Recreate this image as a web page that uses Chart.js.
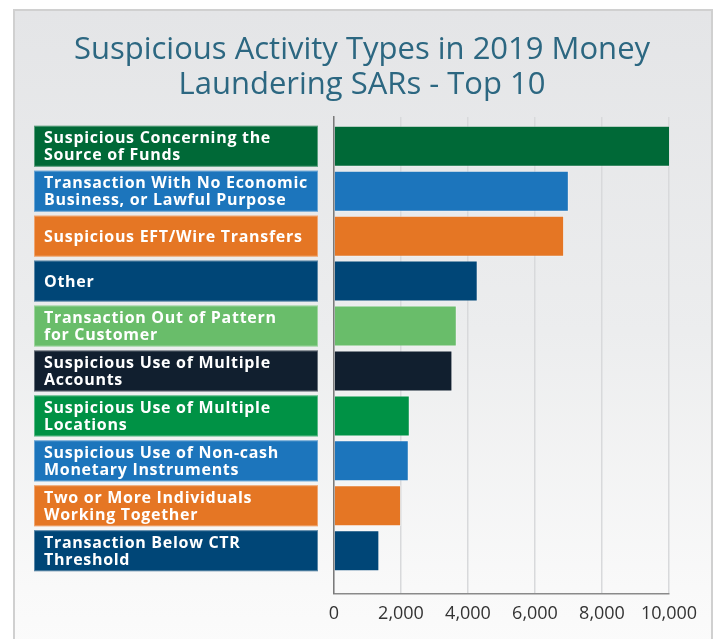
<!DOCTYPE html>
<html><head><meta charset="utf-8">
<script src="https://cdn.jsdelivr.net/npm/chart.js@4"></script>
<style>
html,body{margin:0;padding:0;background:#fff;width:717px;height:639px;overflow:hidden;}
#panel{position:absolute;left:13px;top:9px;width:696px;height:640px;border:2px solid #d0d0d0;border-bottom:none;background:linear-gradient(to bottom,#e4e5e7 0%,#ecedee 50%,#f9f9f9 90%,#fbfbfb 100%);}
#c{position:absolute;left:0;top:0;}
</style></head><body>
<div id="panel"></div>
<canvas id="c" width="717" height="639"></canvas>
<script>
const categories = [
  ["Suspicious Concerning the", "Source of Funds"],
  ["Transaction With No Economic", "Business, or Lawful Purpose"],
  ["Suspicious EFT/Wire Transfers"],
  ["Other"],
  ["Transaction Out of Pattern", "for Customer"],
  ["Suspicious Use of Multiple", "Accounts"],
  ["Suspicious Use of Multiple", "Locations"],
  ["Suspicious Use of Non-cash", "Monetary Instruments"],
  ["Two or More Individuals", "Working Together"],
  ["Transaction Below CTR", "Threshold"]
];
const sarCounts = [10060, 7010, 6870, 4290, 3665, 3535, 2262, 2232, 2002, 1354];
const xTickValues = [0, 2000, 4000, 6000, 8000, 10000];
const titleLines = ["Suspicious Activity Types in 2019 Money", "Laundering SARs - Top 10"];
const barColors = ["#006937", "#1c75bc", "#e57624", "#004677", "#69bd6a",
                   "#111f2f", "#009245", "#1c75bc", "#e57624", "#004677"];

const labelBoxes = {
  id: 'labelBoxes',
  afterDatasetsDraw(chart) {
    const meta = chart.getDatasetMeta(0);
    const ctx = chart.ctx;
    const left = chart.chartArea.left - 300, right = chart.chartArea.left - 16;
    ctx.save();
    meta.data.forEach((bar, i) => {
      const {y, height} = bar.getProps(['y', 'height'], true);
      const top = y - height / 2;
      ctx.fillStyle = barColors[i];
      ctx.fillRect(left, top, right - left, height);
      ctx.strokeStyle = 'rgba(255,255,255,0.35)';
      ctx.lineWidth = 1;
      ctx.strokeRect(left + 0.5, top + 0.5, right - left - 1, height - 1);
      ctx.fillStyle = '#ffffff';
      ctx.font = 'bold 16px "Open Sans"';
      if ('letterSpacing' in ctx) ctx.letterSpacing = '0.7px';
      ctx.textBaseline = 'middle';
      ctx.textAlign = 'left';
      const lines = categories[i];
      const lh = 17;
      lines.forEach((t, k) => ctx.fillText(t, left + 10, y + 1 + (k - (lines.length - 1) / 2) * lh));
    });
    ctx.restore();
  }
};

new Chart(document.getElementById('c'), {
  type: 'bar',
  data: {
    datasets: [{
      data: sarCounts.map((v, i) => ({x: v, y: i})),
      backgroundColor: barColors,
      borderColor: 'rgba(255,255,255,0.35)',
      borderWidth: 1,
      categoryPercentage: 1,
      barPercentage: 0.913
    }]
  },
  options: {
    indexAxis: 'y',
    responsive: false,
    animation: false,
    devicePixelRatio: 1,
    layout: {padding: {left: 55, right: 48, top: 0, bottom: 4}},
    plugins: {
      legend: {display: false},
      tooltip: {enabled: false},
      title: {
        display: true, text: titleLines, color: '#2c6781',
        font: {family: 'Open Sans', size: 31, weight: 'normal', lineHeight: 1.13},
        padding: {top: 33, bottom: 14}
      }
    },
    scales: {
      x: {
        type: 'linear', min: 0, max: 10000,
        afterBuildTicks: s => { s.ticks = xTickValues.map(v => ({value: v})); },
        grid: {color: '#d8d9db', lineWidth: 1.5, drawTicks: false},
        border: {display: true, color: '#8a8a8a', width: 1.5},
        ticks: {color: '#333333', font: {family: 'Open Sans', size: 18}, padding: 10}
      },
      y: {
        type: 'linear', reverse: true, offset: false, min: -0.65, max: 9.95,
        afterBuildTicks: s => { s.ticks = categories.map((_, i) => ({value: i})); },
        afterFit: s => { s.width = 279; },
        grid: {display: false, drawTicks: false, offset: false},
        border: {display: true, color: '#7a7a7a', width: 1.5},
        ticks: {display: false}
      }
    }
  },
  plugins: [labelBoxes]
});
</script>
</body></html>
